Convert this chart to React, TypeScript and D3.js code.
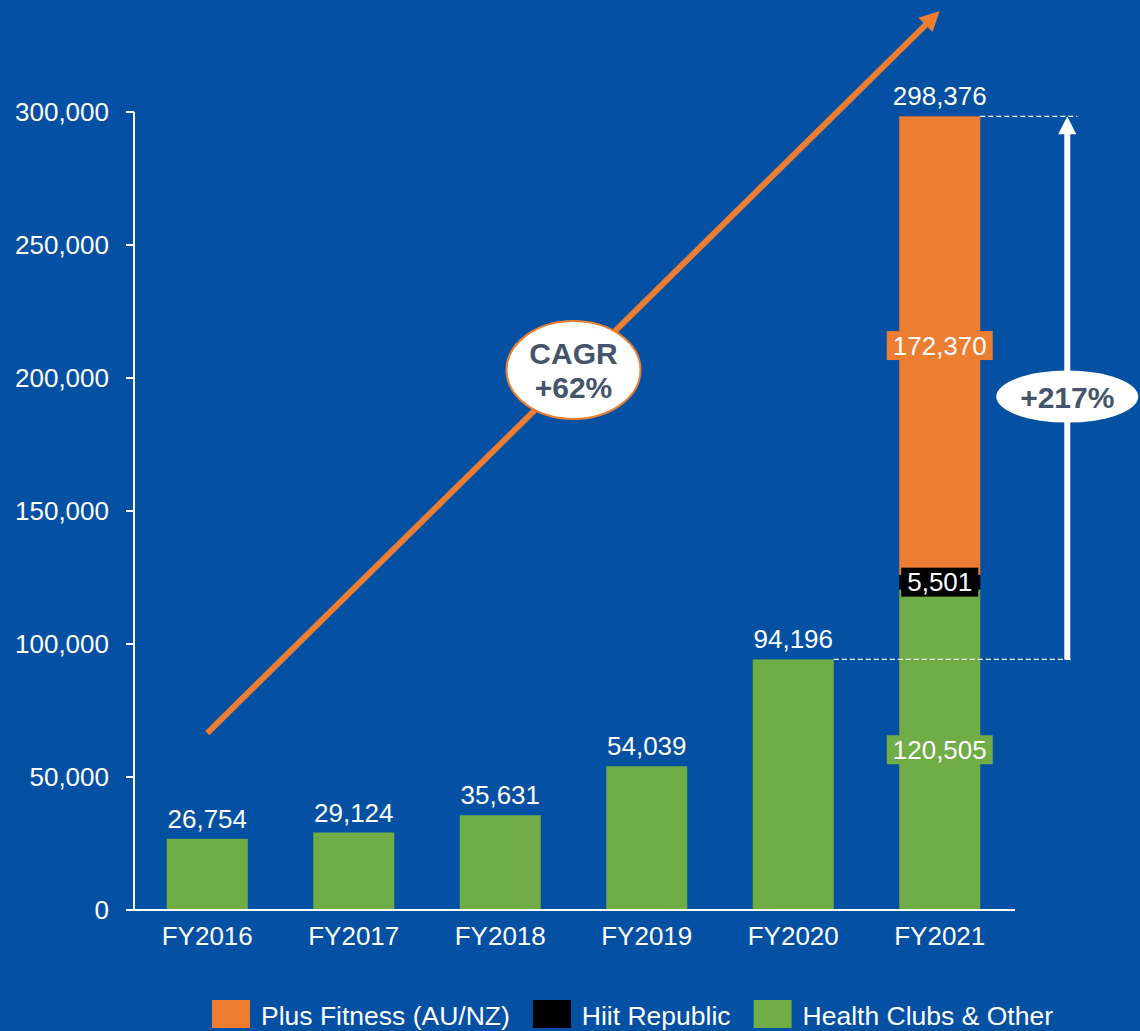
import React, { useEffect, useRef } from "react";
import * as d3 from "d3";

const categories = ["FY2016", "FY2017", "FY2018", "FY2019", "FY2020", "FY2021"];
const healthClubs = [26754, 29124, 35631, 54039, 94196, 120505];
const hiitRepublic = [0, 0, 0, 0, 0, 5501];
const plusFitness = [0, 0, 0, 0, 0, 172370];
const totals = [26754, 29124, 35631, 54039, 94196, 298376];
const yTicks = [0, 50000, 100000, 150000, 200000, 250000, 300000];
const seriesKeys = ["health", "hiit", "plus"];
const seriesNames = ["Plus Fitness (AU/NZ)", "Hiit Republic", "Health Clubs & Other"];
const legendColors = ["#ED7D31", "#000000", "#70AD47"];
const seriesColors: Record<string, string> = { health: "#70AD47", hiit: "#000000", plus: "#ED7D31" };
const cagrLabel = ["CAGR", "+62%"];
const growthLabel = "+217%";
// annotation anchors (values on the y scale)
const cagrStartValue = 66500;
const cagrEndValue = 338000;
const cagrBubbleValue = 203000;
const growthBubbleValue = 193000;

const W = 1140;
const H = 1031;
const BG = "#0450A3";
const FONT = "'Liberation Sans', Arial, sans-serif";
const TXT = "#44546A";

export default function App() {
  const ref = useRef<SVGSVGElement>(null);

  useEffect(() => {
    const svg = d3.select(ref.current);
    svg.selectAll("*").remove();

    const x = d3.scaleBand<string>().domain(categories).range([134, 1013]).paddingInner(0.447).paddingOuter(0.2235);
    const y = d3.scaleLinear().domain([0, 300000]).range([910, 112]);

    const rows = categories.map((c, i) => ({
      cat: c,
      health: healthClubs[i],
      hiit: hiitRepublic[i],
      plus: plusFitness[i],
    }));
    const stack = d3.stack<any>().keys(seriesKeys)(rows);

    svg.append("rect").attr("width", W).attr("height", H).attr("fill", BG);

    const fmt = d3.format(",");

    // bars
    stack.forEach((layer) => {
      svg
        .append("g")
        .selectAll("rect")
        .data(layer.filter((d) => d[1] - d[0] > 0))
        .join("rect")
        .attr("x", (d: any) => x(d.data.cat)!)
        .attr("width", x.bandwidth())
        .attr("y", (d) => y(d[1]))
        .attr("height", (d) => y(d[0]) - y(d[1]))
        .attr("fill", seriesColors[layer.key]);
    });

    // axes
    const axisColor = "#FFFFFF";
    svg
      .append("line")
      .attr("x1", 134)
      .attr("x2", 134)
      .attr("y1", y(300000))
      .attr("y2", y(0))
      .attr("stroke", axisColor)
      .attr("stroke-width", 2);
    svg
      .append("line")
      .attr("x1", 126)
      .attr("x2", 1015)
      .attr("y1", y(0))
      .attr("y2", y(0))
      .attr("stroke", axisColor)
      .attr("stroke-width", 2);
    yTicks.forEach((t) => {
      svg
        .append("line")
        .attr("x1", 126)
        .attr("x2", 134)
        .attr("y1", y(t))
        .attr("y2", y(t))
        .attr("stroke", axisColor)
        .attr("stroke-width", 2);
      svg
        .append("text")
        .attr("x", 109)
        .attr("y", y(t) + 9)
        .attr("text-anchor", "end")
        .attr("fill", "#fff")
        .attr("font-family", FONT)
        .attr("font-size", 26)
        .text(fmt(t));
    });
    categories.forEach((c) => {
      svg
        .append("text")
        .attr("x", x(c)! + x.bandwidth() / 2)
        .attr("y", 945)
        .attr("text-anchor", "middle")
        .attr("fill", "#fff")
        .attr("font-family", FONT)
        .attr("font-size", 26)
        .text(c);
    });

    // total labels
    categories.forEach((c, i) => {
      svg
        .append("text")
        .attr("x", x(c)! + x.bandwidth() / 2)
        .attr("y", y(totals[i]) - 11)
        .attr("text-anchor", "middle")
        .attr("fill", "#fff")
        .attr("font-family", FONT)
        .attr("font-size", 26)
        .text(fmt(totals[i]));
    });

    // segment labels for stacked bar
    stack.forEach((layer) => {
      layer.forEach((d: any, i) => {
        const v = d[1] - d[0];
        if (v <= 0 || (hiitRepublic[i] === 0 && plusFitness[i] === 0)) return;
        const cx = x(d.data.cat)! + x.bandwidth() / 2;
        const cy = (y(d[0]) + y(d[1])) / 2;
        const g = svg.append("g");
        const t = g
          .append("text")
          .attr("x", cx)
          .attr("y", cy + 9)
          .attr("text-anchor", "middle")
          .attr("fill", "#fff")
          .attr("font-family", FONT)
          .attr("font-size", 26)
          .text(fmt(v));
        const bw = (t.node() as SVGTextElement).getComputedTextLength() + 12;
        g.insert("rect", "text")
          .attr("x", cx - bw / 2)
          .attr("y", cy - 14.5)
          .attr("width", bw)
          .attr("height", 29)
          .attr("fill", seriesColors[layer.key]);
      });
    });

    // dashed reference lines
    const last = categories[categories.length - 1];
    const prev = categories[categories.length - 2];
    const arrowX = x(last)! + x.bandwidth() + 87;
    svg
      .append("line")
      .attr("x1", x(last)! + x.bandwidth())
      .attr("x2", arrowX + 10)
      .attr("y1", y(totals[5]))
      .attr("y2", y(totals[5]))
      .attr("stroke", "#fff")
      .attr("stroke-width", 1.3)
      .attr("stroke-dasharray", "5,3");
    svg
      .append("line")
      .attr("x1", x(prev)! + x.bandwidth())
      .attr("x2", arrowX + 5)
      .attr("y1", y(totals[4]))
      .attr("y2", y(totals[4]))
      .attr("stroke", "#fff")
      .attr("stroke-width", 1.3)
      .attr("stroke-dasharray", "5,3");

    // white growth arrow
    const topY = y(totals[5]);
    svg
      .append("line")
      .attr("x1", arrowX)
      .attr("x2", arrowX)
      .attr("y1", y(totals[4]))
      .attr("y2", topY + 15)
      .attr("stroke", "#fff")
      .attr("stroke-width", 6);
    svg
      .append("path")
      .attr("d", `M${arrowX},${topY} L${arrowX + 9},${topY + 18} L${arrowX - 9},${topY + 18} Z`)
      .attr("fill", "#fff");

    // +217% bubble
    const gy = y(growthBubbleValue);
    svg
      .append("ellipse")
      .attr("cx", arrowX)
      .attr("cy", gy)
      .attr("rx", 71)
      .attr("ry", 26)
      .attr("fill", "#fff");
    svg
      .append("text")
      .attr("x", arrowX)
      .attr("y", gy + 11)
      .attr("text-anchor", "middle")
      .attr("fill", TXT)
      .attr("font-family", FONT)
      .attr("font-weight", "bold")
      .attr("font-size", 30)
      .text(growthLabel);

    // CAGR orange arrow
    const x0 = x(categories[0])! + x.bandwidth() / 2;
    const y0 = y(cagrStartValue);
    const x1 = x(last)! + x.bandwidth() / 2;
    const y1 = y(cagrEndValue);
    const ang = Math.atan2(y1 - y0, x1 - x0);
    const headL = 20;
    const headW = 10;
    const bx = x1 - headL * Math.cos(ang);
    const by = y1 - headL * Math.sin(ang);
    svg
      .append("line")
      .attr("x1", x0)
      .attr("y1", y0)
      .attr("x2", bx + 2 * Math.cos(ang))
      .attr("y2", by + 2 * Math.sin(ang))
      .attr("stroke", "#ED7D31")
      .attr("stroke-width", 6);
    const px = -Math.sin(ang);
    const py = Math.cos(ang);
    svg
      .append("path")
      .attr(
        "d",
        `M${x1},${y1} L${bx + headW * px},${by + headW * py} L${bx - headW * px},${by - headW * py} Z`
      )
      .attr("fill", "#ED7D31");

    // CAGR bubble
    const ccx = (x(categories[2])! + x(categories[3])!) / 2 + x.bandwidth() / 2;
    const ccy = y(cagrBubbleValue);
    svg
      .append("ellipse")
      .attr("cx", ccx)
      .attr("cy", ccy)
      .attr("rx", 67)
      .attr("ry", 49)
      .attr("fill", "#fff")
      .attr("stroke", "#ED7D31")
      .attr("stroke-width", 2);
    cagrLabel.forEach((s, i) => {
      svg
        .append("text")
        .attr("x", ccx)
        .attr("y", ccy - 6 + i * 34)
        .attr("text-anchor", "middle")
        .attr("fill", TXT)
        .attr("font-family", FONT)
        .attr("font-weight", "bold")
        .attr("font-size", 30)
        .text(s);
    });

    // legend
    let lx = 212;
    seriesNames.forEach((name, i) => {
      svg
        .append("rect")
        .attr("x", lx)
        .attr("y", 1000)
        .attr("width", 38)
        .attr("height", 28)
        .attr("fill", legendColors[i]);
      const t = svg
        .append("text")
        .attr("x", lx + 49)
        .attr("y", 1025)
        .attr("fill", "#fff")
        .attr("font-family", FONT)
        .attr("font-size", 26.5)
        .text(name);
      const tw = (t.node() as SVGTextElement).getComputedTextLength();
      lx = lx + 49 + tw + 23;
    });
  }, []);

  return (
    <div style={{ position: "absolute", left: 0, top: 0, width: W, height: H }}>
      <svg ref={ref} width={W} height={H} style={{ display: "block" }} />
    </div>
  );
}
